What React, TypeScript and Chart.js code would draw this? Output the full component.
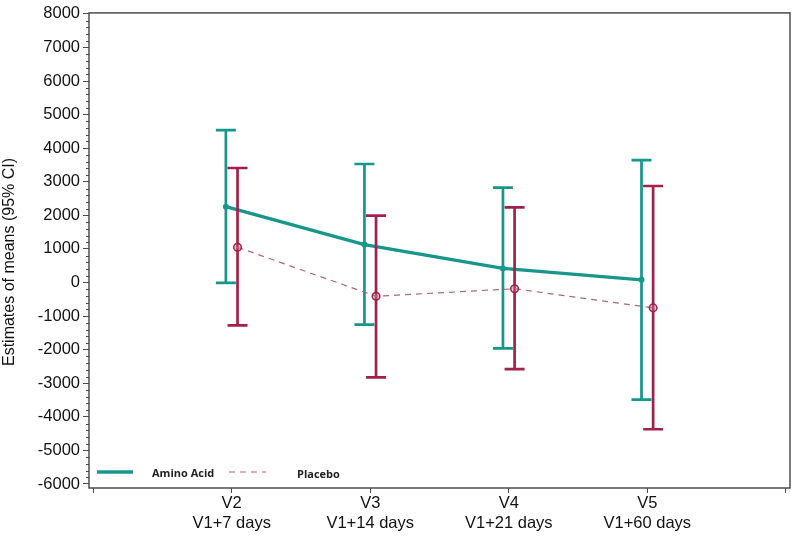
import React, { useEffect, useRef } from "react";
import { Chart, registerables } from "chart.js";

Chart.register(...registerables);

const categories = ["V2", "V3", "V4", "V5"];
const subLabels = ["V1+7 days", "V1+14 days", "V1+21 days", "V1+60 days"];
const aminoMean = [2260, 1130, 420, 80];
const aminoLower = [-10, -1255, -1960, -3490];
const aminoUpper = [4540, 3530, 2825, 3645];
const placeboMean = [1050, -410, -185, -755];
const placeboLower = [-1275, -2825, -2580, -4370];
const placeboUpper = [3410, 1990, 2235, 2875];
const yTickValues = [8000, 7000, 6000, 5000, 4000, 3000, 2000, 1000, 0, -1000, -2000, -3000, -4000, -5000, -6000];
const seriesNames = ["Amino Acid", "Placebo"];
const yTitle = "Estimates of means (95% CI)";

const TEAL = "#17968a";
const RED = "#a3204a";
const DASH = "#a86a78";
const AXIS = "#4d4d4d";

const errorBarPlugin = {
  id: "errorBars",
  beforeDatasetDraw(chart: any, args: any) {
    const ds: any = chart.data.datasets[args.index];
    if (!ds.errLow) return;
    const ctx = chart.ctx;
    const xs = chart.scales.x;
    const ys = chart.scales.y;
    ctx.save();
    ctx.strokeStyle = ds.errColor;
    ctx.lineWidth = 2.7;
    ctx.setLineDash([]);
    ds.data.forEach((p: any, i: number) => {
      const x = xs.getPixelForValue(p.x);
      const yl = ys.getPixelForValue(ds.errLow[i]);
      const yh = ys.getPixelForValue(ds.errHigh[i]);
      ctx.beginPath();
      ctx.moveTo(x, yl);
      ctx.lineTo(x, yh);
      ctx.moveTo(x - 10, yl);
      ctx.lineTo(x + 10, yl);
      ctx.moveTo(x - 10, yh);
      ctx.lineTo(x + 10, yh);
      ctx.stroke();
    });
    ctx.restore();
  },
};

const framePlugin = {
  id: "frameLegend",
  afterDraw(chart: any) {
    const ctx = chart.ctx;
    const a = chart.chartArea;
    const ys = chart.scales.y;
    ctx.save();
    ctx.strokeStyle = AXIS;
    ctx.lineWidth = 1.5;
    ctx.strokeRect(a.left, a.top, a.right - a.left, a.bottom - a.top);
    // minor ticks
    ctx.lineWidth = 1;
    for (let v = -6000; v <= 8000; v += 200) {
      if (v % 1000 === 0) continue;
      const y = Math.round(ys.getPixelForValue(v)) + 0.5;
      ctx.beginPath();
      ctx.moveTo(a.left - 3, y);
      ctx.lineTo(a.left, y);
      ctx.stroke();
    }
    // y title
    ctx.save();
    ctx.translate(10, 262);
    ctx.rotate(-Math.PI / 2);
    ctx.fillStyle = "#111";
    ctx.font = "16px 'Liberation Sans', Arial, sans-serif";
    ctx.textAlign = "center";
    ctx.textBaseline = "middle";
    ctx.fillText(yTitle, 0, 0);
    ctx.restore();
    // legend
    const ly = 472;
    ctx.strokeStyle = TEAL;
    ctx.lineWidth = 3.3;
    ctx.beginPath();
    ctx.moveTo(97, ly);
    ctx.lineTo(133, ly);
    ctx.stroke();
    ctx.strokeStyle = DASH;
    ctx.lineWidth = 1.2;
    ctx.setLineDash([6, 5]);
    ctx.beginPath();
    ctx.moveTo(229, ly);
    ctx.lineTo(266, ly);
    ctx.stroke();
    ctx.setLineDash([]);
    ctx.fillStyle = "#222";
    ctx.font = "700 11px 'Open Sans'";
    ctx.textBaseline = "middle";
    ctx.textAlign = "left";
    ctx.fillText(seriesNames[0], 152, 474);
    ctx.fillText(seriesNames[1], 297, 475);
    ctx.restore();
  },
};

export default function App() {
  const ref = useRef<HTMLCanvasElement>(null);
  useEffect(() => {
    if (!ref.current) return;
    const chart = new Chart(ref.current, {
      type: "scatter",
      data: {
        datasets: [
          {
            label: seriesNames[0],
            data: aminoMean.map((v, i) => ({ x: i + 1 - 0.042, y: v })),
            showLine: true,
            borderColor: TEAL,
            backgroundColor: TEAL,
            borderWidth: 3.4,
            pointRadius: 3,
            pointBorderWidth: 0,
            pointBackgroundColor: TEAL,
            order: 2,
            errLow: aminoLower,
            errHigh: aminoUpper,
            errColor: TEAL,
          } as any,
          {
            label: seriesNames[1],
            data: placeboMean.map((v, i) => ({ x: i + 1 + 0.042, y: v })),
            showLine: true,
            borderColor: DASH,
            borderWidth: 1.2,
            borderDash: [6, 5],
            pointRadius: 3.8,
            pointBorderWidth: 1.5,
            pointBorderColor: RED,
            pointBackgroundColor: "rgba(200,120,140,0.4)",
            order: 1,
            errLow: placeboLower,
            errHigh: placeboUpper,
            errColor: RED,
          } as any,
        ],
      },
      options: {
        responsive: false,
        animation: false,
        layout: { padding: { top: 7, right: 7, left: 0, bottom: 0 } },
        plugins: { legend: { display: false }, tooltip: { enabled: false } },
        scales: {
          x: {
            type: "linear",
            min: -0.03,
            max: 5.03,
            afterBuildTicks: (s: any) => {
              s.ticks = [0, 1, 2, 3, 4, 5].map((v) => ({ value: v }));
            },
            afterFit: (s: any) => {
              s.height = 49;
            },
            border: { display: false },
            grid: { drawOnChartArea: false, tickLength: 5, color: AXIS, lineWidth: 1 },
            ticks: {
              autoSkip: false,
              maxRotation: 0,
              padding: 1,
              color: "#111",
              font: { family: "'Liberation Sans', Arial, sans-serif", size: 16.5 },
              callback: (v: any) => {
                const i = Math.round(Number(v)) - 1;
                if (i >= 0 && i < categories.length && Math.abs(Number(v) - (i + 1)) < 1e-6)
                  return [categories[i], subLabels[i]];
                return "";
              },
            },
          },
          y: {
            min: -6120,
            max: 8030,
            afterBuildTicks: (s: any) => {
              s.ticks = yTickValues.map((v) => ({ value: v }));
            },
            afterFit: (s: any) => {
              s.width = 89;
            },
            border: { display: false },
            grid: { drawOnChartArea: false, tickLength: 6, color: AXIS, lineWidth: 1 },
            ticks: {
              padding: 3,
              color: "#111",
              font: { family: "'Liberation Sans', Arial, sans-serif", size: 16.5 },
              callback: (v: any) => String(v),
            },
          },
        },
      },
      plugins: [errorBarPlugin, framePlugin],
    });
    return () => chart.destroy();
  }, []);
  return (
    <div style={{ position: "fixed", left: 0, top: 0, width: 797, height: 537, background: "#fff" }}>
      <canvas ref={ref} width={797} height={537} />
    </div>
  );
}
